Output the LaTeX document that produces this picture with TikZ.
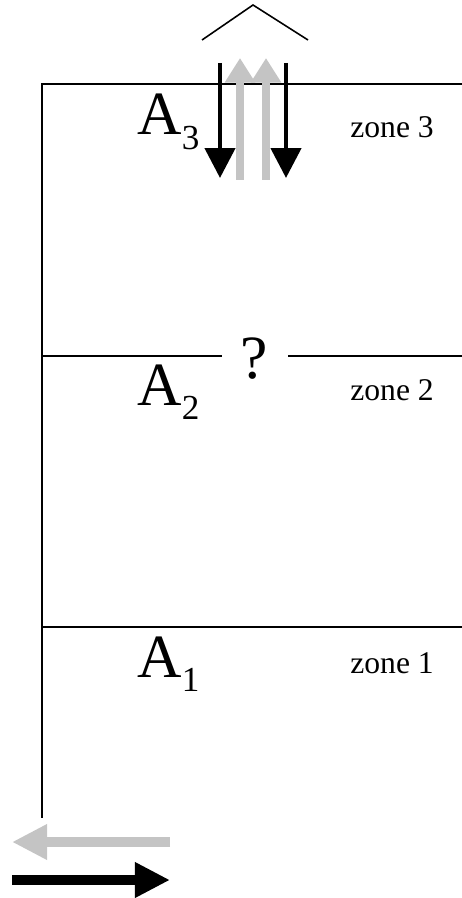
\documentclass[tikz,border=0pt]{standalone}
\usepackage{fontspec}
\setmainfont{Liberation Serif}
\usetikzlibrary{arrows.meta}
\definecolor{lightflow}{RGB}{196,196,196}
\newcommand{\lowsub}[1]{\raisebox{-0.24em}{\fontsize{20}{20}\selectfont #1}}

\begin{document}
\begin{tikzpicture}[x=0.02cm, y=-0.02cm,
    wall/.style={line width=1.2pt},
    bigA/.style={inner sep=0pt, anchor=base west, font=\fontsize{35}{35}\selectfont},
    zonetext/.style={inner sep=0pt, anchor=base west, font=\fontsize{18}{18}\selectfont},
    downflow/.style={line width=2.6pt, -{Triangle[length=17pt, width=17pt]}},
    upflow/.style={lightflow, line width=4pt, -{Triangle[length=14pt, width=16.5pt]}},
    sideflow/.style={line width=5.4pt, -{Triangle[length=20pt, width=19pt]}}]
    \useasboundingbox (0,0) rectangle (462,898);
    \draw[wall] (462,84) -- (42,84) -- (42,818);
    \draw[wall] (42,627) -- (462,627);
    \node[bigA, anchor=base] (q) at (254,378) {?};
    \draw[wall] (42,356) -- (222,356);
    \draw[wall] (288,356) -- (462,356);
    \draw[line width=0.9pt] (202,40) -- (253,5) -- (308,40);
    \draw[upflow] (240,180) -- (240,58);
    \draw[upflow] (266,180) -- (266,58);
    \draw[downflow] (220,63) -- (220,178);
    \draw[downflow] (286,63) -- (286,178);
    \draw[sideflow, lightflow] (170,842) -- (12,842);
    \draw[sideflow] (12,880) -- (170,880);
    \node[bigA] (a3) at (137,135) {A\lowsub{3}};
    \node[bigA] (a2) at (137,405) {A\lowsub{2}};
    \node[bigA] (a1) at (137,677) {A\lowsub{1}};
    \node[zonetext] (z3) at (350,138) {zone 3};
    \node[zonetext] (z2) at (350,400) {zone 2};
    \node[zonetext] (z1) at (350,673) {zone 1};
\end{tikzpicture}
\end{document}
